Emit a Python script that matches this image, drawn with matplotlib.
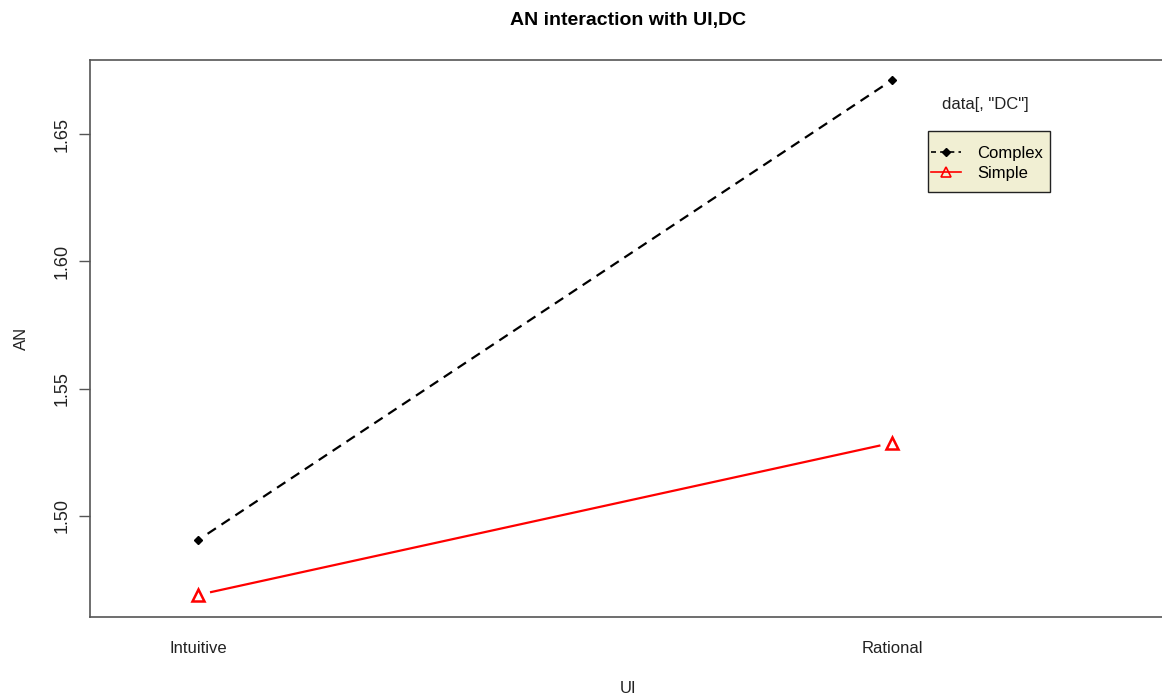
import numpy as np
import matplotlib
matplotlib.use('Agg')
import matplotlib.pyplot as plt
from matplotlib.patches import Rectangle

plt.rcParams['font.family'] = ['Liberation Sans', 'DejaVu Sans']

ui_levels = ['Intuitive', 'Rational']
complex_an = [1.4906, 1.6712]
simple_an = [1.4690, 1.5287]
yticks = [1.50, 1.55, 1.60, 1.65]

W, H = 1162, 697
fig = plt.figure(figsize=(W / 100, H / 100), dpi=100)
ax = fig.add_axes([90 / W, 80 / H, (1166 - 90) / W, 557 / H])

x = np.arange(1, len(ui_levels) + 1)
ax.set_xlim(0.8437, 2.395)
ax.set_ylim(1.4603, 1.6791)


def gapped(xs, ys, gap_px):
    # shorten each segment at both ends, like R's type="b"
    pts = ax.transData.transform(np.column_stack([xs, ys]))
    segs = []
    for p0, p1 in zip(pts[:-1], pts[1:]):
        d = p1 - p0
        u = d / np.hypot(*d)
        a = ax.transData.inverted().transform(p0 + u * gap_px)
        b = ax.transData.inverted().transform(p1 - u * gap_px)
        segs.append((a, b))
    return segs


for a, b in gapped(x, complex_an, 11):
    ax.plot([a[0], b[0]], [a[1], b[1]], color='black', lw=1.6,
            linestyle=(0, (4.5, 3)))
ax.plot(x, complex_an, linestyle='none', marker='D', ms=4.5,
        color='black')

for a, b in gapped(x, simple_an, 13):
    ax.plot([a[0], b[0]], [a[1], b[1]], color='#ff0000', lw=1.6)
ax.plot(x, simple_an, linestyle='none', marker='^', ms=8.5,
        mfc='none', mec='#ff0000', mew=1.8)

# legend box drawn by hand (R puts more room above/below than at the sides)
ax.add_patch(Rectangle((928 / W, 1 - 192 / H), 122 / W, 61 / H,
                       transform=fig.transFigure, facecolor='#F1EFD3',
                       edgecolor='#222222', lw=1.0, zorder=4, clip_on=False))
h1, = ax.plot([], [], color='black', lw=1.2, linestyle=(0, (3, 2.5)),
              marker='D', ms=4)
h2, = ax.plot([], [], color='#ff0000', lw=1.2, marker='^', ms=7,
              mfc='none', mec='#ff0000', mew=1.2)
leg = ax.legend([h1, h2], ['Complex', 'Simple'], loc='upper left',
                bbox_to_anchor=(931 / W, 1 - 146 / H),
                bbox_transform=fig.transFigure, borderaxespad=0,
                frameon=False, fontsize=12, borderpad=0,
                handlelength=1.8, handletextpad=0.95, labelspacing=0.3)
leg.set_zorder(6)
fig.text(985 / W, 1 - 105 / H, 'data[, "DC"]', ha='center', va='center',
         fontsize=12, color='#222222')

ax.set_xticks(x)
ax.set_xticklabels(ui_levels)
ax.set_yticks(yticks)
ax.set_yticklabels(['%.2f' % v for v in yticks])
ax.tick_params(axis='x', length=0, pad=17, labelsize=12, labelcolor='#222222')
ax.tick_params(axis='y', length=8, width=1, pad=6, labelsize=13,
               labelcolor='#222222', color='#555555', labelrotation=90)
for lab in ax.get_yticklabels():
    lab.set_va('center')

for s in ax.spines.values():
    s.set_color('#555555')
    s.set_linewidth(1.2)

ax.set_xlabel('UI', fontsize=12, color='#222222')
ax.xaxis.set_label_coords(0.5, -0.115)
ax.set_ylabel('AN', fontsize=12, color='#222222')
ax.yaxis.set_label_coords(-0.057, 0.5)
ax.set_title('AN interaction with UI,DC', fontsize=14, fontweight='bold',
             pad=25)

fig.savefig('out.png', dpi=100)
